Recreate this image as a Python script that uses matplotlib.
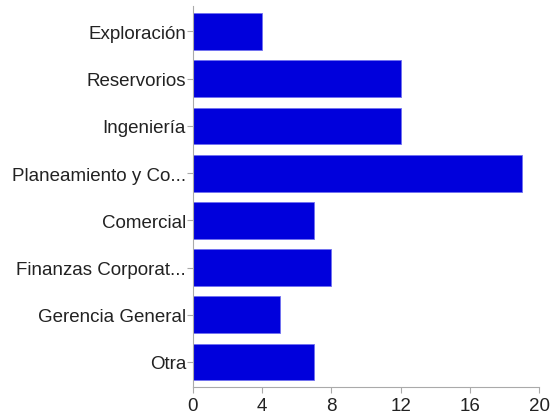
import matplotlib
matplotlib.use("Agg")
import matplotlib.pyplot as plt

categorias = ["Exploración", "Reservorios", "Ingeniería", "Planeamiento y Co...",
              "Comercial", "Finanzas Corporat...", "Gerencia General", "Otra"]
valores = [4, 12, 12, 19, 7, 8, 5, 7]
xticks = [0, 4, 8, 12, 16, 20]

plt.rcParams['font.family'] = ['Liberation Sans', 'DejaVu Sans']

fig = plt.figure(figsize=(5.5, 4.14), dpi=100)
ax = fig.add_axes([193 / 550, 1 - 388 / 414, (539 - 193) / 550, (388 - 7) / 414])

pos = list(range(len(categorias)))
ax.barh(pos, valores, height=0.78, color='#0000dc', edgecolor='#7070f0', linewidth=0.6)

ax.set_xlim(0, 20)
ax.set_ylim(7.53, -0.54)
ax.set_yticks(pos)
ax.set_yticklabels(categorias)
ax.set_xticks(xticks)
ax.set_xticklabels([str(t) for t in xticks])

for s in ['top', 'right']:
    ax.spines[s].set_visible(False)
for s in ['left', 'bottom']:
    ax.spines[s].set_color('#aaaaaa')
    ax.spines[s].set_linewidth(0.8)

ax.tick_params(axis='both', colors='#aaaaaa', length=4, width=0.8, labelcolor='#222222', labelsize=13.5)
ax.tick_params(axis='y', pad=1)
ax.tick_params(axis='x', pad=3)

fig.savefig("out.png", dpi=100)
